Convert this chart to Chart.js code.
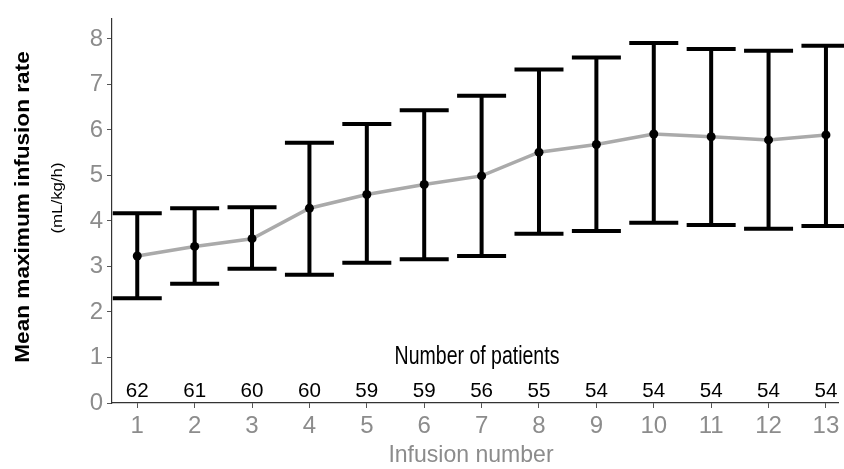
<!DOCTYPE html>
<html>
<head>
<meta charset="utf-8">
<script src="https://cdn.jsdelivr.net/npm/chart.js@4.4.1/dist/chart.umd.min.js"></script>
<style>
  html, body { margin: 0; padding: 0; background: #fff; }
  #wrap { width: 844px; height: 469px; }
</style>
</head>
<body>
<div id="wrap"><canvas id="chart" width="844" height="469"></canvas></div>
<script>
const infusions = [1, 2, 3, 4, 5, 6, 7, 8, 9, 10, 11, 12, 13];
const meanRate = [3.23, 3.44, 3.61, 4.28, 4.58, 4.80, 4.99, 5.51, 5.68, 5.91, 5.85, 5.78, 5.89];
const upperRate = [4.17, 4.28, 4.30, 5.72, 6.13, 6.43, 6.75, 7.33, 7.59, 7.91, 7.78, 7.74, 7.85];
const lowerRate = [2.30, 2.62, 2.95, 2.82, 3.08, 3.16, 3.23, 3.72, 3.78, 3.96, 3.91, 3.83, 3.89];
const patients = [62, 61, 60, 60, 59, 59, 56, 55, 54, 54, 54, 54, 54];
const yTicks = [0, 1, 2, 3, 4, 5, 6, 7, 8];

const FONT = '"Liberation Sans", Arial, sans-serif';

// the source image is a bit stretched, so text is drawn with a scale
function scaledText(ctx, text, x, y, sx, sy) {
  ctx.save();
  ctx.translate(x, y);
  ctx.scale(sx, sy);
  ctx.fillText(text, 0, 0);
  ctx.restore();
}

const errorBars = {
  id: "errorBars",
  beforeDatasetsDraw(chart) {
    const { ctx, scales } = chart;
    const x = scales.x, y = scales.y;
    const cap = 24.5;
    ctx.save();
    ctx.strokeStyle = "#000";
    ctx.lineWidth = 4;
    ctx.lineCap = "butt";
    infusions.forEach((inf, i) => {
      const px = x.getPixelForValue(inf);
      const top = y.getPixelForValue(upperRate[i]);
      const bot = y.getPixelForValue(lowerRate[i]);
      ctx.beginPath();
      ctx.moveTo(px, top);
      ctx.lineTo(px, bot);
      ctx.moveTo(px - cap, top);
      ctx.lineTo(px + cap, top);
      ctx.moveTo(px - cap, bot);
      ctx.lineTo(px + cap, bot);
      ctx.stroke();
    });
    ctx.restore();
  },
  afterDraw(chart) {
    const { ctx, scales } = chart;
    const x = scales.x;
    ctx.save();
    ctx.fillStyle = "#000";
    ctx.textAlign = "center";
    ctx.textBaseline = "middle";
    ctx.font = "21px " + FONT;
    infusions.forEach((inf, i) => {
      scaledText(ctx, String(patients[i]), x.getPixelForValue(inf), 391, 0.98, 1);
    });
    ctx.font = "25px " + FONT;
    scaledText(ctx, "Number of patients", 477, 357, 0.78, 1);

    ctx.fillStyle = "#8c8c8c";
    ctx.font = "24px " + FONT;
    scaledText(ctx, "Infusion number", 471, 455, 0.96, 1);

    // y title, two lines (stretched along the text)
    ctx.fillStyle = "#000";
    ctx.save();
    ctx.translate(23, 207);
    ctx.rotate(-Math.PI / 2);
    ctx.font = "bold 20px " + FONT;
    scaledText(ctx, "Mean maximum infusion rate", 0, 0, 1.13, 1);
    ctx.restore();
    ctx.save();
    ctx.translate(58, 198);
    ctx.rotate(-Math.PI / 2);
    ctx.font = "14px " + FONT;
    scaledText(ctx, "(mL/kg/h)", 0, 0, 1.2, 1);
    ctx.restore();
    ctx.restore();
  }
};

new Chart(document.getElementById("chart"), {
  type: "line",
  data: {
    datasets: [{
      data: infusions.map((inf, i) => ({ x: inf, y: meanRate[i] })),
      borderColor: "#aaaaaa",
      borderWidth: 3.5,
      pointRadius: 4.5,
      pointBackgroundColor: "#000",
      pointBorderColor: "#000",
      pointBorderWidth: 0,
      tension: 0
    }]
  },
  options: {
    responsive: false,
    animation: false,
    layout: { padding: { top: 10, right: 6, left: 0, bottom: 0 } },
    plugins: { legend: { display: false }, tooltip: { enabled: false } },
    scales: {
      x: {
        type: "linear",
        min: 0.56,
        max: 13.21,
        afterBuildTicks(scale) {
          scale.ticks = infusions.map(v => ({ value: v }));
        },
        afterFit(scale) { scale.height = 66; },
        grid: { drawOnChartArea: false, drawTicks: true, tickLength: 5, color: "#555", lineWidth: 1 },
        border: { display: true, color: "#333", width: 1.2 },
        ticks: { color: "#8c8c8c", font: { family: FONT, size: 24 }, padding: 4, maxRotation: 0, autoSkip: false }
      },
      y: {
        min: 0,
        max: 8.45,
        afterBuildTicks(scale) {
          scale.ticks = yTicks.map(v => ({ value: v }));
        },
        afterFit(scale) { scale.width = 112; },
        grid: { drawOnChartArea: false, drawTicks: true, tickLength: 5, color: "#555", lineWidth: 1 },
        border: { display: true, color: "#333", width: 1.2 },
        ticks: { color: "#8c8c8c", font: { family: FONT, size: 24 }, padding: 4 }
      }
    }
  },
  plugins: [errorBars]
});
</script>
</body>
</html>
